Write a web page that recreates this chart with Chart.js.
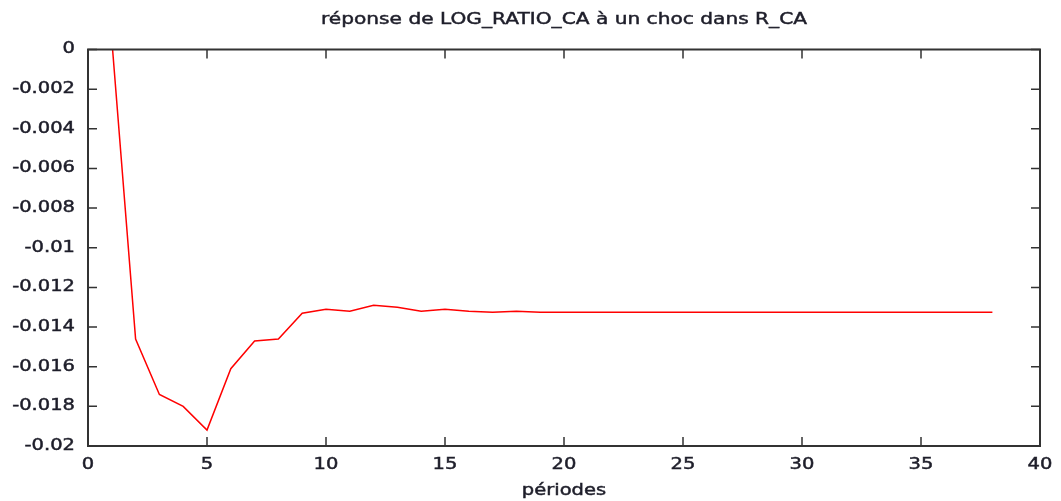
<!DOCTYPE html>
<html>
<head>
<meta charset="utf-8">
<script src="https://cdn.jsdelivr.net/npm/chart.js@4/dist/chart.umd.min.js"></script>
<style>
  html, body { margin: 0; padding: 0; background: #fff; }
  #wrap { width: 1061px; height: 501px; }
</style>
</head>
<body>
<div id="wrap"><canvas id="chart"></canvas></div>
<script>
// periods 1..38 and the impulse response
const periods = [1,2,3,4,5,6,7,8,9,10,11,12,13,14,15,16,17,18,19,20,
                 21,22,23,24,25,26,27,28,29,30,31,32,33,34,35,36,37,38];
const response = [0.0005,-0.0146,-0.0174,-0.0180,-0.0192,-0.0161,-0.0147,-0.0146,-0.0133,-0.0131,
                  -0.0132,-0.0129,-0.0130,-0.0132,-0.0131,-0.0132,-0.01325,-0.0132,-0.01325,-0.01325,
                  -0.01325,-0.01325,-0.01325,-0.01325,-0.01325,-0.01325,-0.01325,-0.01325,-0.01325,-0.01325,
                  -0.01325,-0.01325,-0.01325,-0.01325,-0.01325,-0.01325,-0.01325,-0.01325];
const xTicks = [0,5,10,15,20,25,30,35,40];
const yTicks = [0,-0.002,-0.004,-0.006,-0.008,-0.01,-0.012,-0.014,-0.016,-0.018,-0.02];

const textColor = '#1e1e2a';
const frameColor = '#333';

// the reference text is drawn wide and a bit heavy: stretch glyphs around their anchor
const canvas = document.getElementById('chart');
const ctx2d = canvas.getContext('2d');
const origFill = ctx2d.fillText.bind(ctx2d);
const origStroke = ctx2d.strokeText.bind(ctx2d);
ctx2d.fillText = function (text, x, y, maxWidth) {
    this.save();
    this.translate(x, y);
    this.scale(1.3, 1);
    origFill(text, 0, 0);
    this.strokeStyle = this.fillStyle;
    this.lineWidth = 0.45;
    origStroke(text, 0, 0);
    this.restore();
};

// gnuplot-like box with inward ticks on all four sides
const frame = {
    id: 'frame',
    afterDatasetsDraw(chart) {
        const { ctx, chartArea: a, scales: { x, y } } = chart;
        ctx.save();
        ctx.strokeStyle = frameColor;
        ctx.lineWidth = 2;
        ctx.strokeRect(a.left, a.top, a.right - a.left, a.bottom - a.top);
        ctx.lineWidth = 1.5;
        ctx.beginPath();
        x.ticks.forEach(t => {
            const px = x.getPixelForValue(t.value);
            ctx.moveTo(px, a.bottom); ctx.lineTo(px, a.bottom - 9);
            ctx.moveTo(px, a.top); ctx.lineTo(px, a.top + 9);
        });
        y.ticks.forEach(t => {
            const py = y.getPixelForValue(t.value);
            ctx.moveTo(a.left, py); ctx.lineTo(a.left + 9, py);
            ctx.moveTo(a.right, py); ctx.lineTo(a.right - 9, py);
        });
        ctx.stroke();
        ctx.restore();
    }
};

const font = { family: "'DejaVu Sans', sans-serif", size: 15 };

new Chart(canvas, {
    type: 'line',
    data: {
        datasets: [{
            data: periods.map((p, i) => ({ x: p, y: response[i] })),
            borderColor: '#ff0000',
            borderWidth: 1.5,
            pointRadius: 0,
            tension: 0
        }]
    },
    options: {
        responsive: true,
        maintainAspectRatio: false,
        animation: false,
        layout: { padding: { left: 0, right: 21, top: 0, bottom: 0 } },
        plugins: {
            legend: { display: false },
            tooltip: { enabled: false }
        },
        scales: {
            // top axis only carries the chart title, centred over the plot area
            top: {
                type: 'linear',
                position: 'top',
                min: 0,
                max: 40,
                afterFit: s => { s.height = 49.5; },
                grid: { display: false, drawTicks: false },
                border: { display: false },
                ticks: { display: false },
                title: {
                    display: true,
                    text: 'réponse de LOG_RATIO_CA à un choc dans R_CA',
                    color: textColor,
                    font: { ...font, size: 15.5 },
                    padding: { top: 11, bottom: 0 }
                }
            },
            x: {
                type: 'linear',
                min: 0,
                max: 40,
                afterBuildTicks: s => { s.ticks = xTicks.map(v => ({ value: v })); },
                afterFit: s => { s.height = 55; },
                grid: { display: false, drawTicks: false },
                border: { display: false },
                ticks: { color: textColor, font, padding: 10, maxRotation: 0 },
                title: {
                    display: true,
                    text: 'périodes',
                    color: textColor,
                    font,
                    padding: { top: 0, bottom: 1 }
                }
            },
            y: {
                type: 'linear',
                min: -0.02,
                max: 0,
                afterBuildTicks: s => { s.ticks = yTicks.map(v => ({ value: v })); },
                afterFit: s => { s.width = 88; },
                grid: { display: false, drawTicks: false },
                border: { display: false },
                ticks: {
                    color: textColor,
                    font,
                    padding: 13,
                    callback: v => String(parseFloat(Number(v).toFixed(3)))
                }
            }
        }
    },
    plugins: [frame]
});
</script>
</body>
</html>
